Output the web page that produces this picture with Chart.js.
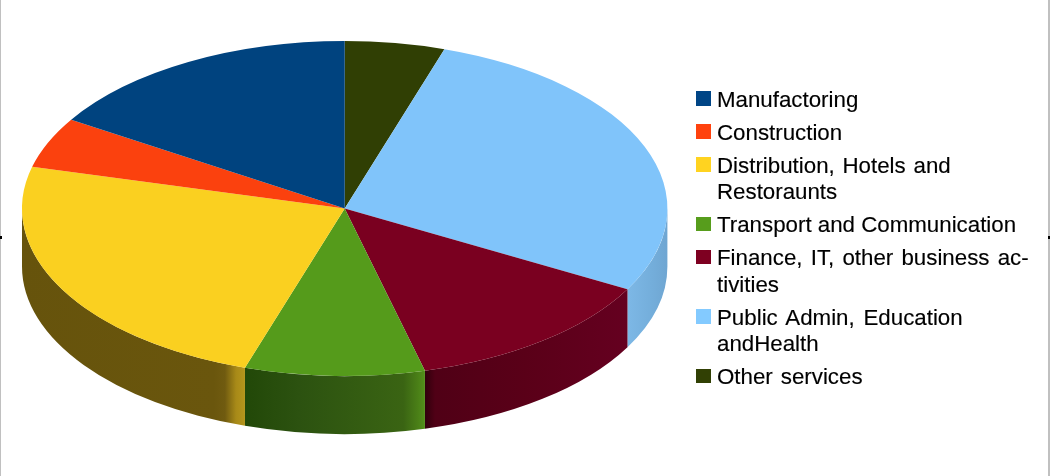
<!DOCTYPE html>
<html>
<head>
<meta charset="utf-8">
<title>Employment by sector</title>
<script src="https://cdn.jsdelivr.net/npm/chart.js@4"></script>
<style>
  html, body { margin: 0; padding: 0; background: #fff; }
  #wrap { position: relative; width: 1050px; height: 476px; overflow: hidden; }
  #pie { position: absolute; left: 0; top: 0; }
  .edge { position: absolute; top: 0; height: 476px; background: #c0c0c0; }
  .tick { position: absolute; top: 236px; width: 2px; height: 3px; background: #000; }
  #legend {
    position: absolute; left: 696px; top: 86.6px; width: 340px;
    font: 22.3px/26.6px "Liberation Sans", Arial, sans-serif; color: #000;
    -webkit-text-stroke: 0.15px #000;
  }
  .item { position: relative; padding-left: 21px; margin-bottom: 6.4px; }
  .item div { white-space: nowrap; }
  .swatch { position: absolute; left: 0; top: 4.6px; width: 14.5px; height: 14.5px; }
</style>
</head>
<body>
<div id="wrap">
  <canvas id="pie" width="1050" height="476"></canvas>
  <div class="edge" style="left:0;width:1px"></div>
  <div class="edge" style="left:1048px;width:2px"></div>
  <div class="tick" style="left:0"></div>
  <div class="tick" style="left:1048px"></div>
  <div id="legend"></div>
</div>
<script>
// In legend order (percent of the pie)
const categories = [
  ['Manufactoring'],
  ['Construction'],
  ['Distribution, Hotels and', 'Restoraunts'],
  ['Transport and Communication'],
  ['Finance, IT, other business ac-', 'tivities'],
  ['Public Admin, Education', 'andHealth'],
  ['Other services']
];
const shares = [16.1, 4.9, 24.0, 9.0, 13.0, 28.0, 5.0];

const legendColors = ['#004586', '#ff420e', '#ffd320', '#579d1c', '#7e0021', '#83caff', '#314004'];
const topColors = ['#00437f', '#fb410e', '#fad020', '#559b1b', '#7a0020', '#80c4fa', '#303f04'];
// Extra space between words, the original legend text is justified
const wordGaps = ['0', '0.3px', '1.6px', '0', '2px', '2.6px', '1.8px'];

// Shading of the side wall, left to right along each slice
const wallStops = [
  [[0, '#003060'], [1, '#003060']],
  [[0, '#a02a08'], [1, '#a02a08']],
  [[0, '#66530c'], [0.86, '#6a560d'], [0.91, '#705b10'], [0.96, '#a88a18'], [1, '#b5951c']],
  [[0, '#224808'], [0.3, '#2c5210'], [0.88, '#3a6413'], [0.96, '#4a7f17'], [1, '#52901a']],
  [[0, '#30000c'], [0.05, '#500016'], [0.5, '#5a0018'], [1, '#650020']],
  [[0, '#7db8e6'], [0.6, '#74aedb'], [1, '#6fa6d2']],
  [[0, '#202a02'], [1, '#202a02']]
];

const SQUASH = 167.5 / 322.7;
const DEPTH = 58;

// The library goes clockwise from the top, the original goes the other way
const clockwise = arr => arr.slice().reverse();

// Draws the side wall from the arcs, then squashes the arcs into an ellipse
const tiltPlugin = {
  id: 'tilt',
  beforeDatasetsDraw(chart) {
    const ctx = chart.ctx;
    const arcs = chart.getDatasetMeta(0).data;
    const stops = clockwise(wallStops);
    arcs.forEach((arc, i) => {
      let a = arc.startAngle, b = arc.endAngle;
      if (b > Math.PI * 2) { a -= Math.PI * 2; b -= Math.PI * 2; }
      a = Math.max(a, 0);
      b = Math.min(b, Math.PI);
      if (b <= a) return;
      const rx = arc.outerRadius, ry = rx * SQUASH;
      const x0 = arc.x + rx * Math.cos(b), x1 = arc.x + rx * Math.cos(a);
      const grad = ctx.createLinearGradient(x0, 0, x1, 0);
      stops[i].forEach(s => grad.addColorStop(s[0], s[1]));
      ctx.beginPath();
      ctx.ellipse(arc.x, arc.y, rx, ry, 0, a, b);
      ctx.ellipse(arc.x, arc.y + DEPTH, rx, ry, 0, b, a, true);
      ctx.closePath();
      ctx.fillStyle = grad;
      ctx.fill();
    });
    const c = arcs[0];
    ctx.save();
    ctx.translate(0, c.y);
    ctx.scale(1, SQUASH);
    ctx.translate(0, -c.y);
  },
  afterDatasetsDraw(chart) {
    chart.ctx.restore();
  }
};

new Chart(document.getElementById('pie'), {
  type: 'pie',
  data: {
    labels: clockwise(categories).map(c => c.join(' ')),
    datasets: [{
      data: clockwise(shares),
      backgroundColor: clockwise(topColors),
      borderWidth: 0,
      clip: false
    }]
  },
  options: {
    responsive: false,
    animation: false,
    devicePixelRatio: 1,
    radius: 322.7,
    layout: { padding: { right: 360.6, bottom: 59 } },
    events: [],
    plugins: { legend: { display: false }, tooltip: { enabled: false } }
  },
  plugins: [tiltPlugin]
});

// Legend is plain text, broken and spaced as in the original
const legendEl = document.getElementById('legend');
categories.forEach((lines, i) => {
  const item = document.createElement('div');
  item.className = 'item';
  const swatch = document.createElement('span');
  swatch.className = 'swatch';
  swatch.style.background = legendColors[i];
  item.appendChild(swatch);
  lines.forEach((line, n) => {
    const row = document.createElement('div');
    row.textContent = line;
    if (n === 0) row.style.wordSpacing = wordGaps[i];
    item.appendChild(row);
  });
  legendEl.appendChild(item);
});
</script>
</body>
</html>
